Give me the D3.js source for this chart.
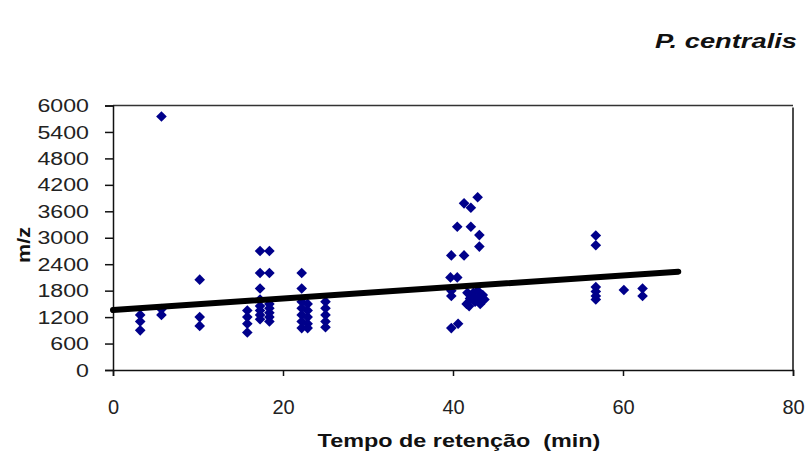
<!DOCTYPE html>
<html><head><meta charset="utf-8">
<script src="https://cdn.jsdelivr.net/npm/d3@7"></script>
<style>body{margin:0;background:#fff}svg{display:block}text{font-family:"Liberation Sans",Arial,sans-serif}</style>
</head><body>
<svg id="c" width="805" height="455"></svg>
<script>
// Retention time (min)
const pointX = [
  3.2,3.2,3.2,
  5.7,5.7,5.7,
  10.2,10.2,10.2,
  15.8,15.8,15.8,15.8,
  17.3,17.3,17.3,17.3,17.3,17.3,17.3,17.3,
  18.4,18.4,18.4,18.4,18.4,18.4,18.4,
  22.2,22.2,22.2,22.2,22.2,22.2,22.2,
  22.9,22.9,22.9,22.9,22.9,
  25,25,25,25,25,
  39.8,41.3,39.7,40.5,39.8,39.8,39.8,40.6,40.5,42.1,41.3,42.1,42.9,43.1,43.1,
  41.6,42.0,42.4,42.9,43.5,43.2,42.6,41.9,43.7,42.3,43.0,41.7,
  56.8,56.8,56.8,56.8,56.8,56.8,
  60.1,
  62.3,62.3
];
// m/z
const pointY = [
  1250,1100,900,
  5750,1380,1250,
  2050,1200,1000,
  1350,1200,1050,850,
  2700,2200,1850,1600,1450,1350,1250,1150,
  2700,2200,1500,1400,1300,1200,1100,
  2200,1850,1550,1400,1250,1100,950,
  1500,1350,1200,1050,950,
  1550,1400,1250,1100,970,
  2600,2600,2100,2100,1800,1680,950,1050,3250,3250,3780,3680,3920,3060,2800,
  1500,1620,1750,1800,1700,1500,1550,1450,1600,1680,1620,1750,
  3050,2830,1880,1780,1680,1600,
  1815,
  1850,1680
];
const trendX = [0, 66.5];
const trendY = [1360, 2230];
const xTicks = [0, 20, 40, 60, 80];
const yTicks = [0, 600, 1200, 1800, 2400, 3000, 3600, 4200, 4800, 5400, 6000];

const svg = d3.select("#c");
const L = 113, R = 793, T = 105.5, B = 370;
const x = d3.scaleLinear().domain([0, 80]).range([L, R]);
const y = d3.scaleLinear().domain([0, 6000]).range([B, T]);
const FONT = '"Liberation Sans",Arial,sans-serif';

// frame top/right
svg.append("line").attr("x1", L).attr("x2", R).attr("y1", T).attr("y2", T).attr("stroke", "#333").attr("stroke-width", 1.5);
svg.append("line").attr("x1", R).attr("x2", R).attr("y1", T + 2).attr("y2", B).attr("stroke", "#111").attr("stroke-width", 1.5);

const yAxis = svg.append("g").attr("transform", `translate(${L},0)`)
  .call(d3.axisLeft(y).tickValues(yTicks).tickSize(8).tickFormat(d3.format("d")));
const xAxis = svg.append("g").attr("transform", `translate(0,${B})`)
  .call(d3.axisBottom(x).tickValues(xTicks).tickSize(6).tickFormat(d3.format("d")));
[yAxis, xAxis].forEach(g => {
  g.select(".domain").attr("stroke", "#111").attr("stroke-width", 1.5);
  g.selectAll(".tick line").attr("stroke", "#111").attr("stroke-width", 1.5);
  g.selectAll(".tick text").attr("fill", "#222").style("font-family", FONT);
});
yAxis.selectAll(".tick text").style("font-size", "19px")
  .attr("x", 0).attr("transform", "translate(-24,0) scale(1.22,1)");
xAxis.selectAll(".tick text").style("font-size", "20px")
  .attr("y", 0).attr("transform", "translate(0,30)");

// points
const diamond = d3.symbol().type(d3.symbolDiamond2).size(72);
svg.append("g").selectAll("path").data(pointX.map((v, i) => [v, pointY[i]])).join("path")
  .attr("d", diamond)
  .attr("transform", d => `translate(${x(d[0])},${y(d[1])})`)
  .attr("fill", "#00008b");

// trend line
svg.append("line")
  .attr("x1", x(trendX[0])).attr("y1", y(trendY[0]))
  .attr("x2", x(trendX[1])).attr("y2", y(trendY[1]))
  .attr("stroke", "#000").attr("stroke-width", 6).attr("stroke-linecap", "round");

// labels
svg.append("text").attr("transform", "translate(459,447) scale(1.3,1)").attr("text-anchor", "middle")
  .style("font-size", "18px").style("font-weight", "bold").attr("fill", "#111")
  .style("white-space", "pre").text("Tempo de retenção  (min)");
svg.append("text").attr("transform", "translate(30,245) rotate(-90) scale(1.2,1)").attr("text-anchor", "middle")
  .style("font-size", "18px").style("font-weight", "bold").attr("fill", "#111")
  .text("m/z");
svg.append("text").attr("transform", "translate(797,48) scale(1.3,1)").attr("text-anchor", "end")
  .style("font-size", "21px").style("font-weight", "bold").style("font-style", "italic").attr("fill", "#111")
  .text("P. centralis");
</script>
</body></html>
